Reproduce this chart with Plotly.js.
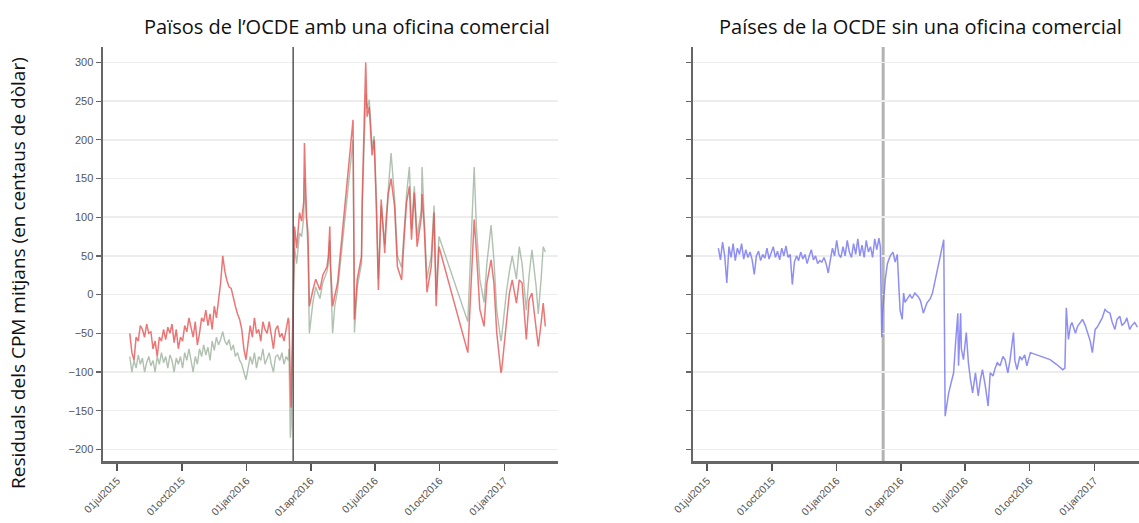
<!DOCTYPE html>
<html>
<head>
<meta charset="utf-8">
<script src="https://cdn.plot.ly/plotly-3.0.1.min.js"></script>
<style>
html,body{margin:0;padding:0;overflow:hidden;background:#fff;}
#chart{width:1160px;height:523px;}
</style>
</head>
<body>
<div id="chart"></div>
<script>
// ---------- DATA ----------
const panelTitles = ["Països de l’OCDE amb una oficina comercial", "Países de la OCDE sin una oficina comercial"];
const yTitle = "Residuals dels CPM mitjans (en centaus de dòlar)";
const tickDates = ["2015-07-01","2015-10-01","2016-01-01","2016-04-01","2016-07-01","2016-10-01","2017-01-01"];
const tickLabels = ["01jul2015","01oct2015","01jan2016","01apr2016","01jul2016","01oct2016","01jan2017"];
const yTicks = [-200,-150,-100,-50,0,50,100,150,200,250,300];
const breakDate = "2016-03-07";
const xRange = ["2015-06-11","2017-03-18"];
const yRange = [-215, 320];

// Left panel: dates shared by both series
const leftDates = [
"2015-07-19","2015-07-22","2015-07-25","2015-07-28","2015-07-31",
"2015-08-03","2015-08-06","2015-08-09","2015-08-12","2015-08-15","2015-08-18","2015-08-21","2015-08-24","2015-08-27","2015-08-30",
"2015-09-02","2015-09-05","2015-09-08","2015-09-11","2015-09-14","2015-09-17","2015-09-20","2015-09-23","2015-09-26","2015-09-29",
"2015-10-02","2015-10-05","2015-10-08","2015-10-11","2015-10-14","2015-10-17","2015-10-20","2015-10-23","2015-10-26","2015-10-29",
"2015-11-01","2015-11-04","2015-11-07","2015-11-10","2015-11-13","2015-11-16","2015-11-19","2015-11-22","2015-11-25","2015-11-28",
"2015-12-01","2015-12-04","2015-12-07","2015-12-10","2015-12-13","2015-12-16","2015-12-19","2015-12-22","2015-12-25","2015-12-28","2015-12-31",
"2016-01-03","2016-01-06","2016-01-09","2016-01-12","2016-01-15","2016-01-18","2016-01-21","2016-01-24","2016-01-27","2016-01-30",
"2016-02-02","2016-02-05","2016-02-08","2016-02-11","2016-02-14","2016-02-17","2016-02-20","2016-02-23","2016-02-26","2016-02-29",
"2016-03-01","2016-03-03","2016-03-04","2016-03-05",
"2016-03-09","2016-03-12","2016-03-16","2016-03-19","2016-03-22","2016-03-23","2016-03-26","2016-03-28","2016-03-30",
"2016-04-04","2016-04-08","2016-04-14","2016-04-18","2016-04-24","2016-04-26","2016-04-28","2016-04-29",
"2016-05-02","2016-05-05","2016-05-09","2016-05-31",
"2016-06-02","2016-06-06","2016-06-12","2016-06-13","2016-06-18","2016-06-20","2016-06-23","2016-06-27","2016-06-30",
"2016-07-03","2016-07-06","2016-07-10","2016-07-15","2016-07-17","2016-07-20","2016-07-24","2016-07-29",
"2016-08-02","2016-08-08","2016-08-12","2016-08-15","2016-08-19","2016-08-22","2016-08-26","2016-08-30",
"2016-09-05","2016-09-06","2016-09-09","2016-09-13","2016-09-19","2016-09-23","2016-09-26","2016-09-30",
"2016-11-10","2016-11-19","2016-11-22","2016-11-27",
"2016-12-03","2016-12-07","2016-12-13","2016-12-17","2016-12-21","2016-12-27","2016-12-28",
"2017-01-04","2017-01-08","2017-01-12","2017-01-18","2017-01-22","2017-01-26",
"2017-02-01","2017-02-05","2017-02-09","2017-02-15","2017-02-18","2017-02-22","2017-02-25","2017-02-28"
];
const leftRed = [
-50,-75,-85,-55,-60,-40,-45,-55,-38,-50,
-48,-70,-60,-80,-55,-60,-45,-58,-42,-50,
-38,-62,-45,-70,-55,-60,-40,-48,-30,-45,
-55,-35,-65,-50,-30,-35,-20,-40,-25,-45,
-15,-30,-10,15,50,30,18,10,8,-5,
-15,-25,-32,-45,-70,-84,-60,-40,-55,-30,
-50,-45,-60,-35,-45,-50,-35,-55,-70,-45,
-40,-55,-50,-60,-45,-30,
-35,-140,-146,-100,
88,60,106,95,120,196,100,80,-15,
6,20,6,25,36,50,88,40,
-15,0,15,226,
-32,20,49,123,300,230,243,180,200,
114,6,123,54,90,130,150,114,
36,19,80,119,140,71,132,62,
100,130,88,3,36,106,-15,62,
-75,97,58,-19,
-41,15,45,15,-49,-101,-98,
-28,2,19,-11,19,15,
-58,-6,2,-41,-67,-37,-11,-41
];
const leftGray = [
-80,-100,-85,-95,-78,-90,-82,-100,-88,-80,
-92,-85,-100,-80,-90,-75,-88,-80,-95,-78,
-85,-100,-82,-90,-80,-95,-75,-85,-70,-88,
-100,-80,-90,-70,-80,-65,-78,-68,-85,-60,
-72,-55,-65,-58,-48,-60,-65,-58,-72,-65,
-80,-75,-85,-90,-100,-110,-95,-80,-90,-75,
-95,-80,-85,-70,-90,-82,-75,-90,-100,-80,
-78,-85,-75,-90,-80,-85,
-70,-185,-170,-120,
60,40,80,75,100,150,85,60,-50,
-10,10,-5,15,30,40,70,30,
-50,-15,5,200,
-49,10,40,110,260,240,252,190,205,
130,20,115,65,100,140,183,125,
50,35,90,130,165,85,140,75,
110,165,100,20,50,115,0,75,
-35,165,90,20,
-10,40,90,45,-20,-60,-55,
5,30,50,20,62,40,
-20,25,58,10,-25,20,62,55
];

// Right panel
const rightDates = [
"2015-07-17","2015-07-20","2015-07-23","2015-07-26","2015-07-29",
"2015-08-01","2015-08-04","2015-08-07","2015-08-10","2015-08-13","2015-08-16","2015-08-19","2015-08-22","2015-08-25","2015-08-28","2015-08-31",
"2015-09-03","2015-09-06","2015-09-09","2015-09-12","2015-09-15","2015-09-18","2015-09-21","2015-09-24","2015-09-27","2015-09-30",
"2015-10-03","2015-10-06","2015-10-09","2015-10-12","2015-10-15","2015-10-18","2015-10-21","2015-10-24","2015-10-27","2015-10-30",
"2015-11-02","2015-11-05","2015-11-08","2015-11-11","2015-11-14","2015-11-17","2015-11-20","2015-11-23","2015-11-26","2015-11-29",
"2015-12-02","2015-12-05","2015-12-08","2015-12-11","2015-12-14","2015-12-17","2015-12-20","2015-12-23","2015-12-26","2015-12-29",
"2016-01-01","2016-01-04","2016-01-07","2016-01-10","2016-01-13","2016-01-16","2016-01-19","2016-01-22","2016-01-25","2016-01-28","2016-01-31",
"2016-02-03","2016-02-06","2016-02-09","2016-02-12","2016-02-15","2016-02-18","2016-02-21","2016-02-24","2016-02-27",
"2016-03-01","2016-03-03","2016-03-04","2016-03-05","2016-03-06",
"2016-03-10","2016-03-13","2016-03-17","2016-03-21","2016-03-24","2016-03-27","2016-03-28","2016-03-31",
"2016-04-03","2016-04-05","2016-04-07","2016-04-10","2016-04-14","2016-04-17","2016-04-21","2016-04-26","2016-04-29",
"2016-05-03","2016-05-08","2016-05-13","2016-05-16",
"2016-06-01","2016-06-03","2016-06-08","2016-06-11","2016-06-15","2016-06-18","2016-06-21","2016-06-22","2016-06-25","2016-06-26","2016-06-29",
"2016-07-03","2016-07-06","2016-07-09","2016-07-12","2016-07-16","2016-07-20","2016-07-23","2016-07-26","2016-07-30",
"2016-08-03","2016-08-06","2016-08-10","2016-08-13","2016-08-16","2016-08-20","2016-08-24","2016-08-27","2016-08-31",
"2016-09-03","2016-09-08","2016-09-10","2016-09-13","2016-09-17","2016-09-20","2016-09-24","2016-09-27",
"2016-10-02","2016-10-09","2016-10-16","2016-10-23","2016-10-30",
"2016-11-08","2016-11-17","2016-11-20","2016-11-22","2016-11-25","2016-11-28","2016-11-30",
"2016-12-05","2016-12-08","2016-12-12","2016-12-15","2016-12-19","2016-12-22","2016-12-26","2016-12-29",
"2017-01-02","2017-01-05","2017-01-09","2017-01-12","2017-01-16","2017-01-19","2017-01-23","2017-01-26","2017-01-30",
"2017-02-02","2017-02-06","2017-02-09","2017-02-13","2017-02-16","2017-02-20","2017-02-23","2017-02-27",
"2017-03-03"
];
const rightBlue = [
60,45,68,50,15,62,48,66,44,60,
52,66,46,58,48,55,45,26,50,56,
44,52,47,60,46,55,62,48,56,45,
60,50,63,48,52,13,42,50,44,55,
46,52,40,50,58,45,50,40,44,42,
48,40,28,45,60,50,70,52,48,62,
50,70,55,48,66,52,72,50,64,48,
70,55,62,48,72,58,73,
62,-20,-55,-25,
20,40,50,55,42,52,28,-20,
-32,2,-10,-6,0,-5,2,-3,-8,
-24,-11,-5,2,
71,-157,-127,-115,-101,-60,-24,-92,-24,-70,-84,
-49,-88,-110,-127,-101,-131,-110,-97,-118,
-144,-101,-105,-95,-88,-92,-80,-84,-101,
-85,-49,-85,-97,-80,-84,-78,-92,
-75,-77,-79,-82,-84,
-90,-97,-95,-17,-58,-40,-36,
-50,-41,-35,-32,-40,-49,-60,-75,
-45,-42,-36,-30,-19,-22,-24,-35,-45,
-32,-28,-40,-36,-30,-45,-40,-36,
-42
];

// ---------- CHART ----------
const W = 1160, H = 523;
const leftDom = [103 / W, 558 / W];
const rightDom = [693 / W, 1148 / W];
const yDom = [62 / H, 476 / H];

const traces = [
  {x: leftDates, y: leftGray, xaxis: 'x', yaxis: 'y', type: 'scatter', mode: 'lines',
   line: {color: 'rgba(150,172,150,0.75)', width: 1.4}, hoverinfo: 'skip'},
  {x: leftDates, y: leftRed, xaxis: 'x', yaxis: 'y', type: 'scatter', mode: 'lines',
   line: {color: 'rgba(228,72,72,0.75)', width: 1.5}, hoverinfo: 'skip'},
  {x: rightDates, y: rightBlue, xaxis: 'x2', yaxis: 'y2', type: 'scatter', mode: 'lines',
   line: {color: 'rgba(115,115,240,0.8)', width: 1.5}, hoverinfo: 'skip'}
];

const tickFontX = {family: 'Liberation Sans, Arial, sans-serif', size: 10.5, color: '#555'};
const tickFontY = {family: 'Liberation Sans, Arial, sans-serif', size: 11, color: '#555'};

function xAxis(dom, anchor) {
  return {
    domain: dom, anchor: anchor, type: 'date', range: xRange,
    tickmode: 'array', tickvals: tickDates, ticktext: tickLabels, tickangle: -45,
    ticks: 'outside', ticklen: 7, tickwidth: 1.5, tickcolor: '#555',
    showline: true, linecolor: '#666', linewidth: 2.5,
    showgrid: false, zeroline: false, tickfont: tickFontX, fixedrange: true
  };
}
function yAxis(anchor, labels) {
  return {
    domain: yDom, anchor: anchor, range: yRange,
    tickmode: 'array', tickvals: yTicks, showticklabels: labels,
    ticks: 'outside', ticklen: 5, tickwidth: 1.2, tickcolor: '#666',
    showline: true, linecolor: '#666', linewidth: 2.5,
    showgrid: true, gridcolor: '#ededed', gridwidth: 1.5,
    zeroline: false, tickfont: tickFontY, fixedrange: true
  };
}

const layout = {
  width: W, height: H,
  margin: {l: 0, r: 0, t: 0, b: 0},
  paper_bgcolor: '#ffffff', plot_bgcolor: '#ffffff',
  showlegend: false,
  xaxis: xAxis(leftDom, 'y'),
  yaxis: yAxis('x', true),
  xaxis2: xAxis(rightDom, 'y2'),
  yaxis2: yAxis('x2', false),
  shapes: [
    {type: 'line', xref: 'x', yref: 'y domain', x0: breakDate, x1: breakDate, y0: 0, y1: 1,
     line: {color: '#555', width: 1.5}, layer: 'above'},
    {type: 'line', xref: 'x2', yref: 'y2 domain', x0: breakDate, x1: breakDate, y0: 0, y1: 1,
     line: {color: '#b3b3b3', width: 3}, layer: 'below'}
  ],
  annotations: [
    {text: panelTitles[0], xref: 'paper', yref: 'paper', x: 347 / W, y: 1 - 27 / H,
     xanchor: 'center', yanchor: 'middle', showarrow: false,
     font: {family: 'Open Sans, sans-serif', size: 20, color: '#111'}},
    {text: panelTitles[1], xref: 'paper', yref: 'paper', x: 920 / W, y: 1 - 27 / H,
     xanchor: 'center', yanchor: 'middle', showarrow: false,
     font: {family: 'Open Sans, sans-serif', size: 20, color: '#111'}},
    {text: yTitle, xref: 'paper', yref: 'paper', x: 18 / W, y: 1 - 273 / H,
     xanchor: 'center', yanchor: 'middle', showarrow: false, textangle: -90,
     font: {family: 'Open Sans, sans-serif', size: 19, color: '#111'}}
  ]
};

Plotly.newPlot('chart', traces, layout, {staticPlot: true, displayModeBar: false});
</script>
</body>
</html>
